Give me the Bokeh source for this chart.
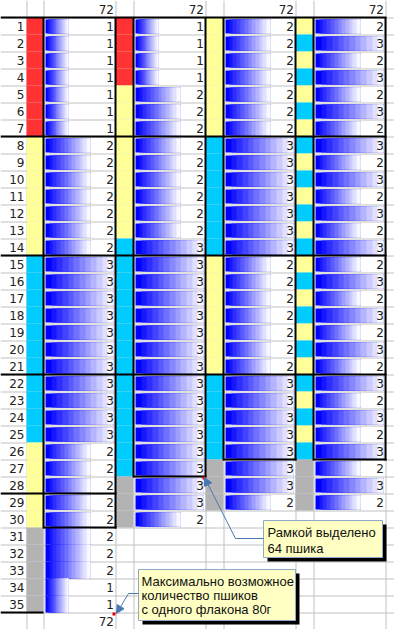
import numpy as np
from bokeh.plotting import figure
from bokeh.models import ColumnDataSource, Range1d, Arrow, NormalHead
from bokeh.embed import file_html
from bokeh.resources import INLINE
from bokeh.core.properties import value

# ---------------- data ----------------
row_numbers = [1, 2, 3, 4, 5, 6, 7, 8, 9, 10, 11, 12, 13, 14, 15, 16, 17, 18,
               19, 20, 21, 22, 23, 24, 25, 26, 27, 28, 29, 30, 31, 32, 33, 34, 35]
sprays_c = [1, 1, 1, 1, 1, 1, 1, 2, 2, 2, 2, 2, 2, 2, 3, 3, 3, 3, 3, 3, 3,
            3, 3, 3, 3, 2, 2, 2, 2, 2, 2, 2, 2, 1, 1]
sprays_e = [1, 1, 1, 1, 2, 2, 2, 2, 2, 2, 2, 2, 2, 3, 3, 3, 3, 3, 3, 3, 3,
            3, 3, 3, 3, 3, 3, 3, 3, 2]
sprays_g = [2, 2, 2, 2, 2, 2, 2, 3, 3, 3, 3, 3, 3, 3, 2, 2, 2, 2, 2, 2, 2,
            3, 3, 3, 3, 3, 3, 3, 2]
sprays_i = [2, 3, 2, 3, 2, 3, 2, 3, 2, 3, 2, 3, 2, 3, 2, 3, 2, 3, 2, 3, 2,
            3, 2, 3, 2, 3, 2, 3, 2]
framed_rows = [30, 27, 26, 26]        # last row inside the black frame (64 sprays)
week_rows = [1, 8, 15, 22, 29]        # rows that start a new week block
level_colors = {1: "#ff3333", 2: "#ffff99", 3: "#00ccff"}
spare_color = "#b3b3b3"
note_framed = ["Рамкой выделено", "64 пшика"]
note_max = ["Максимально возможное", "количество пшиков", "с одного флакона 80г"]

columns = [sprays_c, sprays_e, sprays_g, sprays_i]

# ---------------- layout (reference pixel units) ----------------
HEAD = 17
ROW = 17
FULL_W, FULL_H = 394, 629
label_right = 26
strip_lr = [(26, 43), (115, 133), (205, 223), (295, 313)]
data_lr = [(43, 115), (133, 205), (223, 295), (313, 385)]
grid_x = [26, 43, 115, 133, 205, 223, 295, 313, 385]
UNIT = 22.7
BANDS = 12
GRID = "#c0c0c0"
FONT = "DejaVu Sans"
NOTE_FONT = "Liberation Sans"
ARROW_C = "#4a78b0"


def row_top(r):
    return HEAD + (r - 1) * ROW


p = figure(width=FULL_W, height=FULL_H, x_range=Range1d(0, FULL_W), y_range=Range1d(FULL_H, 0),
           output_backend="svg", toolbar_location=None, min_border=0)
p.axis.visible = False
p.grid.visible = False
p.outline_line_color = None
p.background_fill_color = "white"
p.border_fill_color = "white"

# gridlines
n_rows = len(row_numbers)
hy = [row_top(r) + 0.5 for r in range(1, n_rows + 2)]
p.segment(x0=[0] * len(hy), x1=[FULL_W] * len(hy), y0=hy, y1=hy, line_color=GRID, line_width=1)
gx = [x + 0.5 for x in grid_x]
p.segment(x0=gx, x1=gx, y0=[0] * len(gx), y1=[FULL_H] * len(gx),
          line_color=GRID, line_width=1)

# colour strips
sl, sr, st, sb, sc = [], [], [], [], []
for ci, vals in enumerate(columns):
    for k, v in enumerate(vals):
        r = k + 1
        sl.append(strip_lr[ci][0]); sr.append(strip_lr[ci][1])
        st.append(row_top(r)); sb.append(row_top(r + 1))
        sc.append(level_colors[v] if r <= framed_rows[ci] else spare_color)
p.quad(left=sl, right=sr, top=st, bottom=sb, fill_color=sc, line_color=None)

# gradient data bars (each band drawn from its start to the bar end, later bands on top)
bl, br, bt, bb, bc = [], [], [], [], []
band_cols = []
for j in range(BANDS):
    t = j / (BANDS - 1)
    g = int(round(248 * t))
    band_cols.append("#%02x%02xff" % (g, g))
for ci, vals in enumerate(columns):
    for k, v in enumerate(vals):
        r = k + 1
        x0 = data_lr[ci][0] + 2
        x_end = round(x0 + v * UNIT)
        inset_t, inset_b = (0, 0) if (ci == 0 and r > 30) else (2, 1)
        for j in range(BANDS):
            bl.append(round(x0 + (x_end - x0) * j / BANDS))
            br.append(x_end)
            bt.append(row_top(r) + inset_t)
            bb.append(row_top(r + 1) - inset_b)
            bc.append(band_cols[j])
p.quad(left=bl, right=br, top=bt, bottom=bb, fill_color=bc, line_color=None)

# texts
TS = "12px"
p.text(x=[label_right - 2] * n_rows, y=[row_top(r) + ROW / 2 + 0.5 for r in row_numbers],
       text=[str(r) for r in row_numbers], text_align="right", text_baseline="middle",
       text_font=value(FONT), text_font_size=TS, text_color="#222222")
tx, ty, tt = [], [], []
for ci, vals in enumerate(columns):
    for k, v in enumerate(vals):
        tx.append(data_lr[ci][1] - 1.5)
        ty.append(row_top(k + 1) + ROW / 2 + 0.5)
        tt.append(str(v))
    tx.append(data_lr[ci][1] - 1.5)
    ty.append(HEAD / 2 + 0.5)
    tt.append(str(sum(vals)))
tx.append(data_lr[0][1] - 1.5)
ty.append(row_top(n_rows + 1) + ROW / 2 + 0.5)
tt.append(str(sum(sprays_c)))
p.text(x=tx, y=ty, text=tt, text_align="right", text_baseline="middle",
       text_font=value(FONT), text_font_size=TS, text_color="#222222")

# thick frame lines
fx0, fx1, fy0, fy1 = [], [], [], []
for r in week_rows:
    right = 0
    for ci in range(4):
        if framed_rows[ci] >= r:
            right = data_lr[ci][1]
    fx0.append(0); fx1.append(right + 1); fy0.append(row_top(r)); fy1.append(row_top(r))
for ci in range(4):
    yb = row_top(framed_rows[ci] + 1)
    fx0.append(data_lr[ci][0]); fx1.append(data_lr[ci][1] + 1); fy0.append(yb); fy1.append(yb)
    for xx in data_lr[ci]:
        fx0.append(xx); fx1.append(xx); fy0.append(row_top(1)); fy1.append(yb + 1)
fx0.append(0); fx1.append(strip_lr[0][1]); fy0.append(row_top(n_rows + 1)); fy1.append(row_top(n_rows + 1))
p.segment(x0=fx0, x1=fx1, y0=fy0, y1=fy1, line_color="black", line_width=2)

# comment markers
mk_x = [data_lr[0][1], data_lr[1][1]]
mk_y = [row_top(n_rows + 1), row_top(framed_rows[1] + 1)]
p.quad(left=[x - 3 for x in mk_x], right=mk_x, top=mk_y, bottom=[y + 3 for y in mk_y],
       fill_color="#e00000", line_color=None)


# callouts
def callout(x0, y0, x1, y1, lines, tx0, ty0, dy, path):
    p.quad(left=[x0 + 4], right=[x1 + 4], top=[y0 + 4], bottom=[y1 + 4],
           fill_color="black", line_color=None)
    p.quad(left=[x0], right=[x1], top=[y0], bottom=[y1],
           fill_color="#ffffc4", line_color="#8fa8c8", line_width=1)
    p.text(x=[tx0] * len(lines), y=[ty0 + i * dy for i in range(len(lines))], text=lines,
           text_align="left", text_baseline="middle", text_font=value(NOTE_FONT),
           text_font_size="13px", text_color="#111111")
    xs = [pt[0] for pt in path]
    ys = [pt[1] for pt in path]
    p.line(xs[:-1], ys[:-1], line_color=ARROW_C, line_width=1)
    p.add_layout(Arrow(x_start=xs[-2], y_start=ys[-2], x_end=xs[-1], y_end=ys[-1],
                       line_color=ARROW_C, line_width=1,
                       end=NormalHead(size=8, fill_color=ARROW_C, line_color=ARROW_C)))


callout(263, 520, 382, 557, note_framed, 267, 532, 15.5,
        [(263, 538), (235, 538), (204, 477)])
callout(138, 569, 295, 620, note_max, 141, 581, 14,
        [(138, 593), (128, 593), (116, 613)])

open("out.html", "w").write(file_html(p, INLINE))
